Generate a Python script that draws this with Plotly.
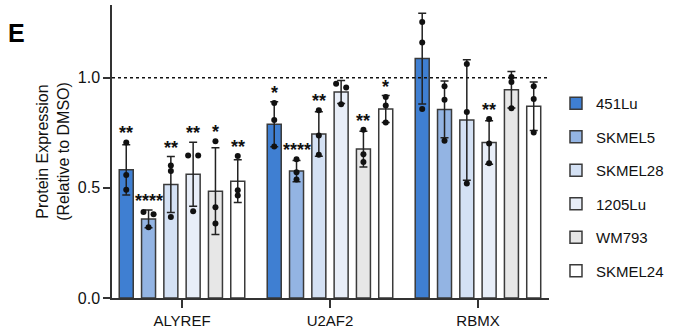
import plotly.graph_objects as go

genes = ["ALYREF", "U2AF2", "RBMX"]
cell_lines = ["451Lu", "SKMEL5", "SKMEL28", "1205Lu", "WM793", "SKMEL24"]

mean_451Lu = [0.582, 0.789, 1.087]
mean_SKMEL5 = [0.359, 0.576, 0.856]
mean_SKMEL28 = [0.515, 0.744, 0.808]
mean_1205Lu = [0.562, 0.935, 0.706]
mean_WM793 = [0.485, 0.676, 0.945]
mean_SKMEL24 = [0.530, 0.858, 0.870]

sd_451Lu = [0.114, 0.102, 0.206]
sd_SKMEL5 = [0.040, 0.048, 0.129]
sd_SKMEL28 = [0.127, 0.101, 0.273]
sd_1205Lu = [0.145, 0.052, 0.099]
sd_WM793 = [0.197, 0.081, 0.083]
sd_SKMEL24 = [0.097, 0.061, 0.110]

pts_451Lu = [[0.706, 0.558, 0.491], [0.885, 0.808, 0.688], [1.253, 1.160, 0.858]]
pts_SKMEL5 = [[0.390, 0.380, 0.321], [0.630, 0.571, 0.538], [0.961, 0.900, 0.714]]
pts_SKMEL28 = [[0.602, 0.577, 0.368], [0.852, 0.738, 0.650], [1.062, 0.844, 0.520]]
pts_1205Lu = [[0.647, 0.647, 0.394], [0.973, 0.956, 0.880], [0.812, 0.701, 0.612]]
pts_WM793 = [[0.711, 0.412, 0.338], [0.764, 0.653, 0.617], [1.003, 0.980, 0.861]]
pts_SKMEL24 = [[0.645, 0.489, 0.465], [0.912, 0.874, 0.797], [0.961, 0.903, 0.751]]

# horizontal spread of replicate dots (-1 left, 0 centre, 1 right)
jit_451Lu = [[0, 0, 0], [0, 0, 0], [0, 0, 0]]
jit_SKMEL5 = [[-1, 1, 0], [0, 0, 0], [0, 0, 0]]
jit_SKMEL28 = [[0, 0, 0], [0, 0, 0], [0, 0, 0]]
jit_1205Lu = [[-1, 1, 0], [-1, 1, 0], [0, 0, 0]]
jit_WM793 = [[0, 0, 0], [0, 0, 0], [0, 0, 0]]
jit_SKMEL24 = [[0, 0, 0], [0, 0, 0], [0, 0, 0]]

stars_451Lu = ["**", "*", ""]
stars_SKMEL5 = ["****", "****", ""]
stars_SKMEL28 = ["**", "**", ""]
stars_1205Lu = ["**", "", "**"]
stars_WM793 = ["*", "**", ""]
stars_SKMEL24 = ["**", "*", ""]

means = [mean_451Lu, mean_SKMEL5, mean_SKMEL28, mean_1205Lu, mean_WM793, mean_SKMEL24]
sds = [sd_451Lu, sd_SKMEL5, sd_SKMEL28, sd_1205Lu, sd_WM793, sd_SKMEL24]
pts = [pts_451Lu, pts_SKMEL5, pts_SKMEL28, pts_1205Lu, pts_WM793, pts_SKMEL24]
jits = [jit_451Lu, jit_SKMEL5, jit_SKMEL28, jit_1205Lu, jit_WM793, jit_SKMEL24]
stars = [stars_451Lu, stars_SKMEL5, stars_SKMEL28, stars_1205Lu, stars_WM793, stars_SKMEL24]

colors = ["#3f7fd2", "#93b4e3", "#d4e1f4", "#e8eef8", "#e7e7e7", "#ffffff"]

slot = 0.1507
bar_w = 0.0946
jit_step = 0.034
FONT = "Liberation Sans, Arial, sans-serif"

fig = go.Figure()
annotations = []
for i, cl in enumerate(cell_lines):
    off = (i - 2.5) * slot
    xs = [g + off for g in range(len(genes))]
    fig.add_trace(go.Bar(
        x=xs, y=means[i], width=bar_w, name=cl,
        marker=dict(color=colors[i], line=dict(color="#3a3a3a", width=1.5)),
        error_y=dict(type="data", array=sds[i], visible=True,
                     color="#222222", thickness=1.5, width=4),
        legendgroup=cl,
    ))
    px, py = [], []
    for g in range(len(genes)):
        for v, j in zip(pts[i][g], jits[i][g]):
            px.append(xs[g] + j * jit_step)
            py.append(v)
    fig.add_trace(go.Scatter(
        x=px, y=py, mode="markers", showlegend=False, legendgroup=cl,
        marker=dict(color="#111111", size=6), hoverinfo="skip", cliponaxis=False,
    ))
    for g in range(len(genes)):
        if stars[i][g]:
            top = max(means[i][g] + sds[i][g], max(pts[i][g]))
            annotations.append(dict(
                x=xs[g], y=top, text="<b>" + stars[i][g] + "</b>", showarrow=False,
                xref="x", yref="y", yanchor="bottom", yshift=-3,
                font=dict(family=FONT, size=18, color="#111111"),
            ))

annotations.append(dict(
    x=-0.242, y=0.958, xref="paper", yref="paper", text="<b>E</b>", showarrow=False,
    xanchor="left", yanchor="top",
    font=dict(family=FONT, size=25, color="#000000"),
))

fig.add_shape(type="line", xref="paper", yref="y", x0=0, x1=1, y0=1.0, y1=1.0,
              line=dict(color="#111111", width=1.5, dash="dot"))

fig.update_layout(
    width=674, height=331,
    margin=dict(l=112, r=125, t=5, b=33),
    plot_bgcolor="white", paper_bgcolor="white",
    barmode="overlay",
    showlegend=True,
    legend=dict(x=1.016, y=0.72, xanchor="left", yanchor="top",
                font=dict(family=FONT, size=15, color="#111111"),
                tracegroupgap=11, bgcolor="rgba(0,0,0,0)"),
    annotations=annotations,
    font=dict(family=FONT, color="#111111"),
)
fig.update_xaxes(
    range=[-0.473, 2.48], tickvals=list(range(len(genes))), ticktext=genes,
    showline=True, linecolor="#333333", linewidth=1.5, ticks="outside",
    ticklen=8, tickwidth=1.5, tickcolor="#333333", showgrid=False, zeroline=False,
    tickfont=dict(family=FONT, size=15, color="#111111"), automargin=False,
)
fig.update_yaxes(
    range=[0, 1.33], tickvals=[0, 0.5, 1.0], tickformat=".1f",
    showline=True, linecolor="#333333", linewidth=1.5, ticks="outside",
    ticklen=7, tickwidth=1.5, tickcolor="#333333", showgrid=False, zeroline=False,
    tickfont=dict(family=FONT, size=16, color="#111111"), automargin=False,
    title=dict(text="Protein Expression<br>(Relative to DMSO)", standoff=4,
               font=dict(family=FONT, size=16, color="#111111")),
)

fig.write_html("out.html", config={"displayModeBar": False},
               post_script="document.body.style.margin='0';")
